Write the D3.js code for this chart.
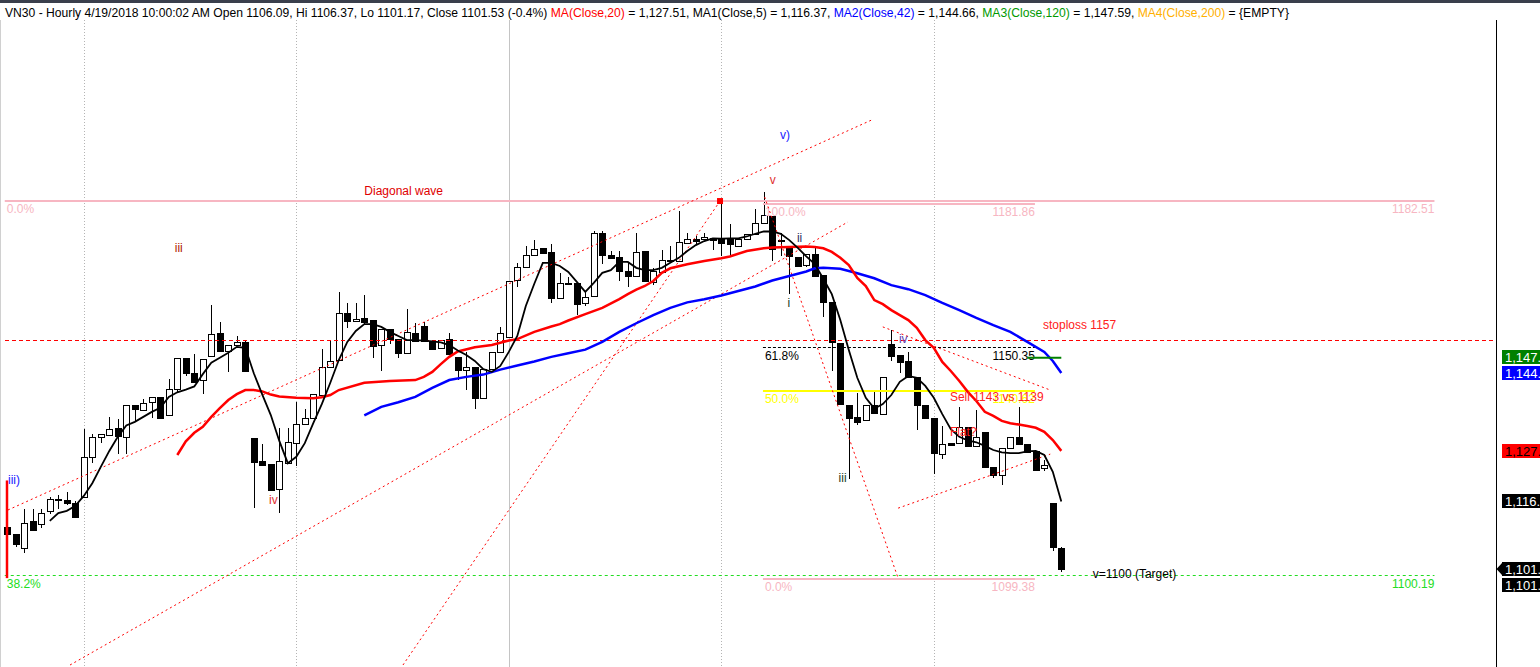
<!DOCTYPE html>
<html><head><meta charset="utf-8">
<script src="https://cdn.jsdelivr.net/npm/d3@7"></script>
<style>
html,body{margin:0;padding:0;background:#fff;overflow:hidden}
svg{display:block;font-family:"Liberation Sans",Arial,sans-serif}
</style></head>
<body><svg id="chart" width="1540" height="667"></svg>
<script>
// ---------------- DATA (hourly VN30 bars) ----------------
const openP = [1110.8,1109.2,1106.1,1112.0,1111.4,1114.2,1117.0,1116.7,1116.0,1117.3,
1126.2,1130.6,1130.9,1132.5,1130.5,1137.6,1136.5,1138.3,1139.3,1135.3,
1141.1,1147.9,1144.6,1143.1,1148.3,1153.5,1149.4,1150.8,1151.5,1130.4,
1125.3,1124.6,1119.1,1124.8,1129.3,1133.4,1134.7,1139.8,1145.9,1147.5,
1157.8,1156.2,1156.8,1156.3,1150.8,1154.3,1152.1,1149.0,1153.5,1155.0,
1151.7,1150.1,1152.2,1148.2,1145.3,1146.0,1139.1,1145.6,1149.3,1152.6,
1165.1,1167.9,1170.6,1172.1,1171.3,1161.1,1164.5,1164.5,1160.0,1161.5,
1175.4,1170.6,1170.1,1167.1,1165.9,1171.5,1164.6,1166.9,1169.2,1169.2,
1173.2,1174.2,1174.1,1174.4,1174.2,1174.1,1172.5,1174.1,1175.2,1177.6,
1179.2,1173.9,1172.2,1170.1,1168.4,1170.8,1166.2,1160.2,1151.3,1137.6,
1135.0,1134.3,1137.6,1135.6,1151.0,1148.6,1147.2,1143.7,1137.6,1134.7,
1126.8,1129.3,1129.2,1132.7,1128.6,1131.6,1124.0,1122.2,1128.1,1130.6,
1129.0,1127.5,1123.7,1116.0,1106.09];
const highP = [1111.2,1109.2,1114.7,1114.7,1114.7,1117.3,1117.7,1118.5,1116.5,1132.3,
1131.3,1131.2,1134.9,1134.5,1137.6,1137.6,1138.9,1139.3,1139.3,1143.3,
1147.9,1147.9,1148.8,1147.7,1159.6,1155.8,1150.8,1152.8,1151.9,1130.4,
1129.0,1124.6,1132.6,1132.6,1138.3,1136.7,1140.0,1149.9,1151.6,1162.4,
1160.0,1160.0,1161.8,1156.3,1154.3,1154.3,1152.1,1158.7,1155.6,1155.8,
1151.7,1152.0,1153.5,1148.2,1149.3,1146.0,1145.5,1149.3,1154.7,1164.9,
1168.9,1172.5,1173.9,1172.1,1173.1,1166.6,1165.7,1164.5,1162.6,1175.9,
1175.9,1171.6,1171.4,1168.9,1175.4,1171.5,1167.8,1171.7,1172.5,1180.3,
1175.4,1174.7,1175.4,1174.4,1182.5,1177.4,1174.1,1175.3,1180.7,1184.4,
1179.2,1175.5,1172.2,1170.1,1170.8,1172.5,1166.2,1160.2,1151.3,1137.6,
1140.3,1137.6,1140.5,1143.8,1154.1,1148.6,1149.3,1143.7,1137.6,1134.7,
1133.0,1129.3,1137.1,1132.7,1136.4,1131.6,1124.0,1128.1,1130.6,1137.2,
1129.0,1127.5,1125.5,1116.0,1106.37];
const lowP = [1108.8,1106.6,1105.3,1110.1,1110.8,1113.9,1115.0,1115.8,1113.0,1117.3,
1125.1,1129.5,1130.9,1127.0,1127.1,1134.2,1136.5,1135.0,1134.7,1135.3,
1140.5,1144.2,1142.7,1140.3,1148.3,1149.6,1145.2,1150.8,1145.0,1115.1,
1124.3,1118.9,1114.1,1124.8,1124.4,1133.4,1134.7,1139.8,1145.9,1147.5,
1154.8,1156.2,1155.4,1148.2,1145.3,1151.2,1148.2,1149.0,1151.7,1151.7,
1149.9,1150.1,1148.8,1143.3,1141.2,1136.9,1139.1,1145.6,1149.3,1152.6,
1163.7,1167.9,1170.6,1171.1,1160.2,1161.1,1164.2,1157.6,1159.6,1161.5,
1168.9,1170.0,1165.1,1163.7,1165.9,1164.8,1164.3,1166.9,1169.2,1169.2,
1173.2,1173.2,1174.1,1172.0,1170.6,1170.6,1172.5,1174.1,1175.2,1177.6,
1169.5,1170.6,1162.2,1168.2,1168.1,1166.1,1157.1,1145.3,1137.8,1121.5,
1133.4,1134.3,1135.8,1135.6,1147.5,1144.9,1143.7,1132.3,1134.7,1122.7,
1125.9,1128.9,1129.2,1128.6,1128.6,1123.9,1121.8,1120.2,1128.1,1129.0,
1127.3,1123.2,1123.3,1105.7,1101.17];
const closeP = [1109.2,1107.0,1111.7,1110.1,1113.8,1116.9,1116.6,1116.1,1113.0,1126.2,
1130.5,1131.2,1132.3,1130.8,1137.6,1136.7,1138.0,1139.3,1134.7,1141.1,
1147.9,1144.6,1142.7,1147.7,1153.2,1149.6,1150.8,1151.5,1145.0,1125.1,
1124.3,1118.9,1125.2,1129.4,1133.4,1134.7,1140.0,1145.9,1147.2,1157.8,
1156.2,1156.6,1155.9,1150.6,1154.3,1152.1,1149.0,1153.6,1151.7,1151.7,
1149.9,1152.0,1148.8,1145.3,1145.9,1139.1,1145.5,1149.3,1153.5,1164.9,
1167.9,1170.6,1171.9,1171.1,1161.1,1164.4,1164.2,1159.9,1161.4,1175.4,
1170.6,1170.0,1167.0,1165.9,1171.2,1164.8,1167.0,1169.5,1169.5,1173.5,
1174.2,1173.8,1174.5,1173.9,1173.3,1173.0,1174.1,1175.3,1177.6,1179.4,
1171.9,1173.7,1170.3,1168.2,1170.8,1166.1,1160.2,1151.4,1137.8,1134.7,
1133.9,1137.6,1135.8,1143.8,1148.5,1147.1,1143.7,1137.6,1134.7,1127.0,
1129.0,1128.9,1132.7,1128.6,1130.6,1123.9,1122.2,1128.1,1130.6,1129.0,
1127.3,1123.2,1124.3,1106.3,1101.53];

// MA1(Close,5) - black, starts at bar 5
const ma5Start = 5;
const ma5Val = [1112.1,1113.8,1114.3,1115.4,1117.6,1120.4,1124.0,1127.5,1130.6,1133.1,
1133.9,1135.0,1136.1,1137.0,1139.4,1140.4,1141.0,1141.7,1144.4,1146.9,
1148.0,1149.1,1150.4,1150.2,1144.6,1139.9,1135.4,1129.7,1124.8,1126.2,
1129.2,1133.6,1137.8,1142.5,1147.5,1151.5,1153.9,1155.4,1155.4,1154.8,
1153.7,1152.8,1151.9,1151.9,1151.8,1151.6,1151.4,1150.8,1149.6,1148.6,
1147.3,1145.5,1144.9,1146.2,1149.3,1152.8,1159.4,1164.3,1168.9,1168.9,
1168.2,1166.9,1164.7,1162.5,1164.5,1166.7,1167.3,1169.1,1169.1,1167.8,
1167.3,1167.3,1167.8,1168.9,1170.0,1171.5,1172.8,1173.7,1174.3,1174.2,
1174.3,1174.3,1174.7,1175.3,1175.8,1175.8,1175.3,1173.9,1172.2,1170.3,
1168.6,1165.4,1162.0,1156.3,1149.7,1143.6,1139.2,1136.8,1137.8,1139.8,
1142.7,1144.0,1143.6,1141.8,1139.2,1135.6,1132.3,1130.6,1129.8,1129.4,
1128.6,1127.7,1127.2,1127.0,1127.0,1127.4,1127.5,1126.6,1122.9,1116.37];

// MA(Close,20) - red
const ma20Idx = [20,21,22,23,24,25,26,27,28,29,30,31,32,34,36,37,38,39,42,45,48,49,50,51,52,53,55,57,59,60,62,64,65,66,68,70,
72,73,74,75,76,77,78,80,82,84,85,87,89,90,92,94,95,96,97,98,99,100,101,102,103,104,105,106,107,108,109,110,111,112,113,114,115,116,117,118,119,120,121,122,123,124];
const ma20Val = [1126.6,1129.6,1131.5,1132.8,1135.0,1136.9,1138.7,1140.0,1140.9,1140.9,1140.6,1139.9,1139.5,
1139.2,1139.1,1139.3,1139.8,1140.9,
1142.5,1142.9,1143.1,1143.8,1144.9,1146.6,1148.2,1149.4,
1150.3,1150.8,1151.8,1152.1,1153.7,1154.9,1155.4,1156.2,1157.6,1159.0,
1160.9,1162.0,1163.0,1163.8,1164.9,1166.7,1167.7,1168.6,1169.3,1169.9,1170.3,1171.5,1172.1,1172.3,1172.4,1172.5,1172.4,1172.1,
1171.3,1170.0,1168.4,1165.6,1163.8,1160.7,1159.8,1158.5,1157.4,1156.3,1154.6,1151.9,1150.2,1147.1,1145.1,1142.9,1140.5,1138.5,1136.1,1135.2,1134.1,1133.6,1133.3,1133.0,1132.6,1131.7,1129.9,1127.51];

// MA2(Close,42) - blue
const ma42Idx = [42,44,46,48,50,52,54,56,58,60,62,64,66,68,70,72,74,76,78,80,82,84,86,88,90,92,94,95,96,98,100,102,104,106,108,110,112,114,116,118,120,122,123,124];
const ma42Val = [1135.3,1137.2,1138.2,1139.4,1141.4,1143.1,1143.8,1144.3,1145.4,1146.3,1147.2,1148.2,1149.0,1149.8,1151.5,1153.7,1155.6,1157.4,1159.0,1160.2,1160.9,1161.7,1162.7,1163.7,1165.0,1166.0,1167.0,1167.7,1167.8,1167.6,1166.6,1165.5,1164.0,1163.1,1161.8,1160.1,1158.5,1156.8,1155.2,1153.7,1151.5,1149.3,1147.3,1144.66];

// MA3(Close,120) - green (only last bars)
const ma120Idx = [120,121,122,123,124];
const ma120Val = [1148.0,1148.0,1148.0,1148.0,1148.0];

// Fibonacci retracements
const fib1 = {from:-0.3, to:167.9, levels:[{pct:"0.0%", v:1182.51, col:"#f7b6c2", txt:"#f7b6c2", dash:null, w:2},
                                          {pct:"38.2%", v:1100.19, col:"#22dd22", txt:"#22dd22", dash:"3,3", w:1}]};
const fib2 = {from:88.9, to:120.9, levels:[{pct:"100.0%", v:1181.86, col:"#f7b6c2", txt:"#f7b6c2", dash:null, w:2},
                                          {pct:"61.8%", v:1150.35, col:"#000000", txt:"#000000", dash:"3,2", w:1},
                                          {pct:"50.0%", v:1140.62, col:"#ffff00", txt:"#ffff00", dash:null, w:2},
                                          {pct:"0.0%", v:1099.38, col:"#f7b6c2", txt:"#f7b6c2", dash:null, w:2}]};
// stoploss horizontal (red dashed)
const stopLevel = 1151.9;
// Trend lines [idx1, price1, idx2, price2]
const trendLines = [
  [0.08,1114.5, 101.7,1200.35],
  [7.38,1080.38, 98.9,1177.9],
  [46.55,1080.38, 83.85,1182.5],
  [89.1,1183.4, 104.8,1099.5],
  [104.8,1114.9, 122.7,1126.8],
  [103.0,1154.8, 122.7,1140.9]
];
const markerPt = [83.85, 1182.5];
// Wave / text annotations: idx, price (baseline), colour
const notes = [
  {t:"Diagonal wave", i:42.0, p:1183.8, c:"#e00000"},
  {t:"iii", i:19.7, p:1171.3, c:"#b02000"},
  {t:"iii)", i:0.08, p:1120.2, c:"#2020ff"},
  {t:"iv", i:30.8, p:1115.8, c:"#e03030"},
  {t:"v)", i:90.9, p:1196.2, c:"#2020ff"},
  {t:"v", i:89.7, p:1186.3, c:"#e03030"},
  {t:"ii", i:92.9, p:1173.5, c:"#303060"},
  {t:"i", i:91.8, p:1159.2, c:"#204020"},
  {t:"iii", i:97.8, p:1120.7, c:"#204020"},
  {t:"iv", i:104.9, p:1151.3, c:"#6040b0"},
  {t:"stoploss 1157", i:121.85, p:1154.3, c:"#ff2020"},
  {t:"Sell 1143 vs 1139", i:110.9, p:1138.5, c:"#ff2020"},
  {t:"Flat?", i:110.9, p:1130.8, c:"#ff2020"},
  {t:"v=1100 (Target)", i:127.7, p:1099.5, c:"#000000"}
];
const sessionBars = [9,34,59,84,109];
const axisLabels = [
  {v:1101.53, bg:"#000000", fg:"#ffffff", arrow:true},
  {v:1116.37, bg:"#000000", fg:"#ffffff"},
  {v:1127.51, bg:"#ff0000", fg:"#000000"},
  {v:1144.66, bg:"#0000ff", fg:"#ffffff"},
  {v:1147.59, bg:"#008000", fg:"#ffffff"},
  {v:1101.17, bg:"#000000", fg:"#ffffff"}
];
const header = [
  ["VN30 - Hourly 4/19/2018 10:00:02 AM Open 1106.09, Hi 1106.37, Lo 1101.17, Close 1101.53 (-0.4%) ","#000000"],
  ["MA(Close,20)","#ff0000"],[" = 1,127.51, MA1(Close,5) = 1,116.37, ","#000000"],
  ["MA2(Close,42)","#0000ff"],[" = 1,144.66, ","#000000"],
  ["MA3(Close,120)","#009900"],[" = 1,147.59, ","#000000"],
  ["MA4(Close,200)","#ffb000"],[" = {EMPTY}","#000000"]
];

// ---------------- DRAW ----------------
const W = 1540, H = 667;
const svg = d3.select("#chart");
const x = d3.scaleLinear().domain([0, 124]).range([7.3, 7.3 + 8.5*124]);
const y = d3.scaleLinear().domain([1100.19, 1182.51]).range([575, 201]);
const axisX = 1496.5;

// top strip
svg.append("rect").attr("x",0).attr("y",0).attr("width",W).attr("height",3).attr("fill","#3a3f4c");

// session gridlines
svg.append("g").selectAll("line").data(sessionBars).join("line")
  .attr("x1",d=>Math.round(x(d))+0.5).attr("x2",d=>Math.round(x(d))+0.5)
  .attr("y1",20).attr("y2",H)
  .attr("stroke",(d,i)=>i===2?"#c4c4c4":"#b4b4b4")
  .attr("stroke-dasharray",(d,i)=>i===2?null:"1,2");

// left frame
svg.append("line").attr("x1",0.5).attr("x2",0.5).attr("y1",20).attr("y2",H).attr("stroke","#d0d0d0");

// candles
const gC = svg.append("g").attr("shape-rendering","crispEdges");
d3.range(openP.length).forEach(i=>{
  const cx = Math.round(x(i)) + 0.5;
  const o = openP[i], c = closeP[i];
  gC.append("line").attr("x1",cx).attr("x2",cx)
    .attr("y1",Math.round(y(highP[i]))).attr("y2",Math.round(y(lowP[i]))+1)
    .attr("stroke","#000");
  const top = Math.round(y(Math.max(o,c))), bot = Math.round(y(Math.min(o,c)));
  gC.append("rect").attr("x",cx-3).attr("y",top+0.5)
    .attr("width",6).attr("height",Math.max(1,bot-top))
    .attr("fill", c < o ? "#000" : "#fff").attr("stroke","#000");
});

// horizontal stoploss dashed
svg.append("line").attr("x1",5).attr("x2",axisX).attr("y1",Math.round(y(stopLevel))+0.5).attr("y2",Math.round(y(stopLevel))+0.5)
  .attr("stroke","#ff0000").attr("stroke-dasharray","4,3");

// fib retracements
function drawFib(f){
  const g = svg.append("g");
  f.levels.forEach(l=>{
    const yy = Math.round(y(l.v)) + (l.w===1?0.5:0);
    g.append("line").attr("x1",x(f.from)).attr("x2",x(f.to)).attr("y1",yy).attr("y2",yy)
      .attr("stroke",l.col).attr("stroke-width",l.w).attr("stroke-dasharray",l.dash);
    g.append("text").attr("x",x(f.from)+2).attr("y",yy+12).attr("font-size",12).attr("fill",l.txt).text(l.pct);
    g.append("text").attr("x",x(f.to)).attr("y",yy+12).attr("font-size",12).attr("fill",l.txt)
      .attr("text-anchor","end").text(d3.format(".2f")(l.v));
  });
}
drawFib(fib1);
drawFib(fib2);

// trend lines
svg.append("g").selectAll("line").data(trendLines).join("line")
  .attr("x1",d=>x(d[0])).attr("y1",d=>y(d[1])).attr("x2",d=>x(d[2])).attr("y2",d=>y(d[3]))
  .attr("stroke","#ff0000").attr("stroke-width",1).attr("stroke-dasharray","2,3");
svg.append("rect").attr("x",x(markerPt[0])-3).attr("y",y(markerPt[1])-3).attr("width",6).attr("height",6).attr("fill","#ff0000");

// moving averages
const line = d3.line().x(d=>x(d[0])).y(d=>y(d[1]));
svg.append("path").datum(ma42Idx.map((d,i)=>[d,ma42Val[i]])).attr("d",line)
  .attr("fill","none").attr("stroke","#0000ff").attr("stroke-width",2.5);
svg.append("path").datum(ma20Idx.map((d,i)=>[d,ma20Val[i]])).attr("d",line)
  .attr("fill","none").attr("stroke","#ff0000").attr("stroke-width",2.5);
svg.append("path").datum(ma5Val.map((v,i)=>[i+ma5Start,v])).attr("d",line)
  .attr("fill","none").attr("stroke","#000").attr("stroke-width",1.8);
svg.append("path").datum(ma120Idx.map((d,i)=>[d,ma120Val[i]])).attr("d",line)
  .attr("fill","none").attr("stroke","#008000").attr("stroke-width",2);

// left red marker bar
svg.append("line").attr("x1",7).attr("x2",7).attr("y1",y(1121.0)).attr("y2",y(1099.5))
  .attr("stroke","#ff0000").attr("stroke-width",2.5);

// annotations
svg.append("g").selectAll("text").data(notes).join("text")
  .attr("x",d=>x(d.i)).attr("y",d=>y(d.p)).attr("font-size",12).attr("fill",d=>d.c).text(d=>d.t);

// right axis
svg.append("line").attr("x1",axisX).attr("x2",axisX).attr("y1",20).attr("y2",H).attr("stroke","#000");
const placed = [];
axisLabels.forEach(l=>{
  let cy = y(l.v);
  placed.forEach((p,k)=>{
    if (Math.abs(cy - p) < 16) cy = (l.v >= axisLabels[k].v) ? p - 16 : p + 16;
  });
  placed.push(cy);
  l.cy = cy;
});
const gA = svg.append("g");
axisLabels.forEach(l=>{
  gA.append("rect").attr("x",1502).attr("y",Math.round(l.cy-7)).attr("width",40).attr("height",14).attr("fill",l.bg);
  if (l.arrow) gA.append("path").attr("d",`M${axisX},${l.cy} L1502,${l.cy-6} L1502,${l.cy+6} Z`).attr("fill",l.bg);
  gA.append("text").attr("x",1505).attr("y",Math.round(l.cy)+5).attr("font-size",13).attr("fill",l.fg)
    .text(d3.format(",.2f")(l.v));
});

// header
const ht = svg.append("text").attr("x",5).attr("y",17).attr("font-size",12);
header.forEach(h=>ht.append("tspan").attr("fill",h[1]).text(h[0]));
const len = ht.node().getComputedTextLength();
ht.attr("font-size", 12 * 1285 / len);
</script></body></html>
